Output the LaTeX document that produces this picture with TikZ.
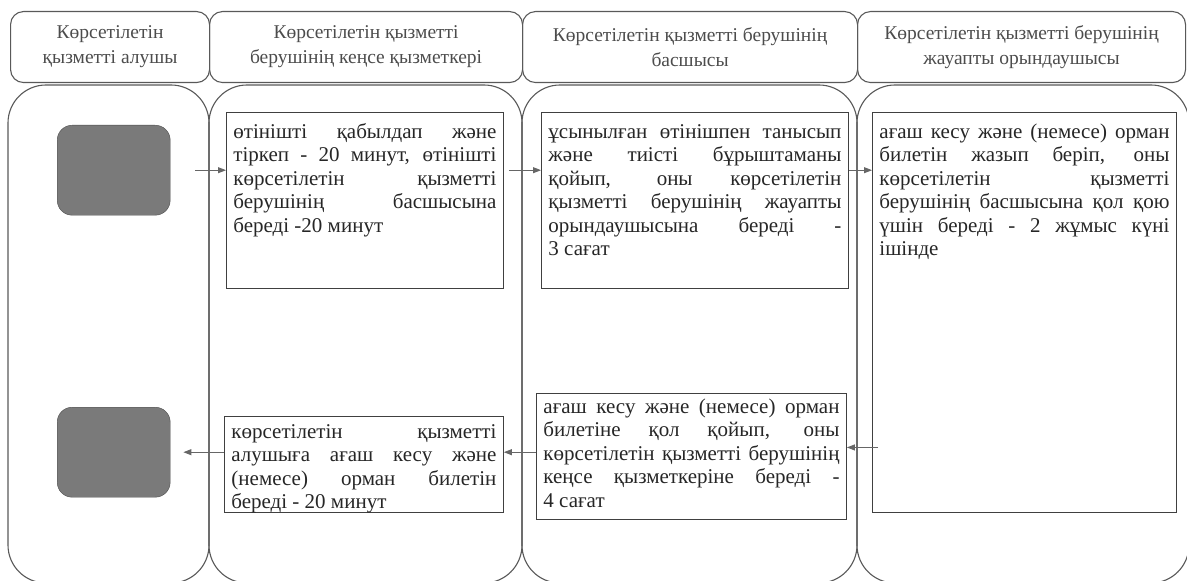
\documentclass[tikz,border=0pt]{standalone}
\usepackage{fontspec}
\setmainfont{Liberation Serif}
\usetikzlibrary{arrows.meta}
\hyphenpenalty=10000
\exhyphenpenalty=10000

\begin{document}
\begin{tikzpicture}[x=1bp,y=-1bp,
  lane/.style={draw=black!65,line width=1.1bp,rounded corners=38bp},
  head/.style={draw=black!65,line width=1.1bp,rounded corners=13bp,anchor=north west,
    align=center,inner sep=0pt,text=black!70,font=\fontsize{19.5bp}{25bp}\selectfont},
  client/.style={draw=black!70,fill=black!52,rounded corners=15bp,anchor=north west,
    minimum width=113bp,minimum height=90bp,inner sep=0pt},
  proc/.style={draw=black!75,line width=0.9bp,anchor=north west,align=justify,inner ysep=0pt,
    inner xsep=7bp,text=black!85,font=\fontsize{21bp}{23.4bp}\selectfont},
  flow/.style={draw=black!60,line width=0.9bp,-{Triangle[length=8bp,width=6bp]}},
]
\useasboundingbox (0,0) rectangle (1187,581);
\begin{scope}
\clip (0,0) rectangle (1187,581);
\draw[lane] (8,85) rectangle (209,583);
\draw[lane] (209,85) rectangle (522,583);
\draw[lane] (522,85) rectangle (857,583);
\draw[lane] (857,85) rectangle (1189,583);
\end{scope}

% headers
\node[head,minimum width=199bp,minimum height=71bp] (h1) at (10,11) {Көрсетілетін\\қызметті алушы};
\node[head,minimum width=313bp,minimum height=71bp] (h2) at (209,11) {Көрсетілетін қызметті\\берушінің кеңсе қызметкері};
\node[head,minimum width=335bp,minimum height=71bp] (h3) at (522,11) {Көрсетілетін қызметті берушінің\\басшысы};
\node[head,minimum width=328bp,minimum height=71bp] (h4) at (857,11) {Көрсетілетін қызметті берушінің\\жауапты орындаушысы};

% steps
\node[client] (client1) at (57,125) {};
\node[client] (client2) at (57,407) {};
\node[proc,text width=263bp,text height=26bp,text depth=150bp] (boxA) at (226,112)
  {өтінішті қабылдап және\linebreak тіркеп - 20 минут, өтінішті\linebreak көрсетілетін қызметті\linebreak берушінің басшысына\linebreak береді -20 минут};
\node[proc,text width=293bp,text height=26bp,text depth=150bp] (boxB) at (541,112)
  {ұсынылған өтінішпен танысып\linebreak және тиісті бұрыштаманы\linebreak қойып, оны көрсетілетін\linebreak қызметті берушінің жауапты\linebreak орындаушысына береді -\linebreak 3 сағат};
\node[proc,text width=290bp,text height=26bp,text depth=374bp] (boxC) at (872,112)
  {ағаш кесу және (немесе) орман\linebreak билетін жазып беріп, оны\linebreak көрсетілетін қызметті\linebreak берушінің басшысына қол қою\linebreak үшін береді - 2 жұмыс күні\linebreak ішінде};
\node[proc,text width=296bp,text height=20bp,text depth=106bp] (boxD) at (536,393)
  {ағаш кесу және (немесе) орман\linebreak билетіне қол қойып, оны\linebreak көрсетілетін қызметті берушінің\linebreak кеңсе қызметкеріне береді -\linebreak 4 сағат};
\node[proc,text width=265bp,text height=22bp,text depth=74bp] (boxE) at (224,416)
  {көрсетілетін қызметті\linebreak алушыға ағаш кесу және\linebreak (немесе) орман билетін\linebreak береді - 20 минут};

% arrows
\draw[flow] ([xshift=25bp]client1.east) -- (client1.east -| boxA.west);
\draw[flow] ([xshift=5bp]boxA.east |- client1.east) -- (boxB.west |- client1.east);
\draw[flow] (boxB.east |- client1.east) -- (boxC.west |- client1.east);
\draw[flow] ([xshift=6bp,yshift=9bp]boxC.west |- boxD.east) -- ([yshift=9bp]boxD.east);
\draw[flow] (boxD.west |- client2.east) -- (boxE.east |- client2.east);
\draw[flow] (boxE.west |- client2.east) -- ([xshift=13bp]client2.east);
\end{tikzpicture}
\end{document}
